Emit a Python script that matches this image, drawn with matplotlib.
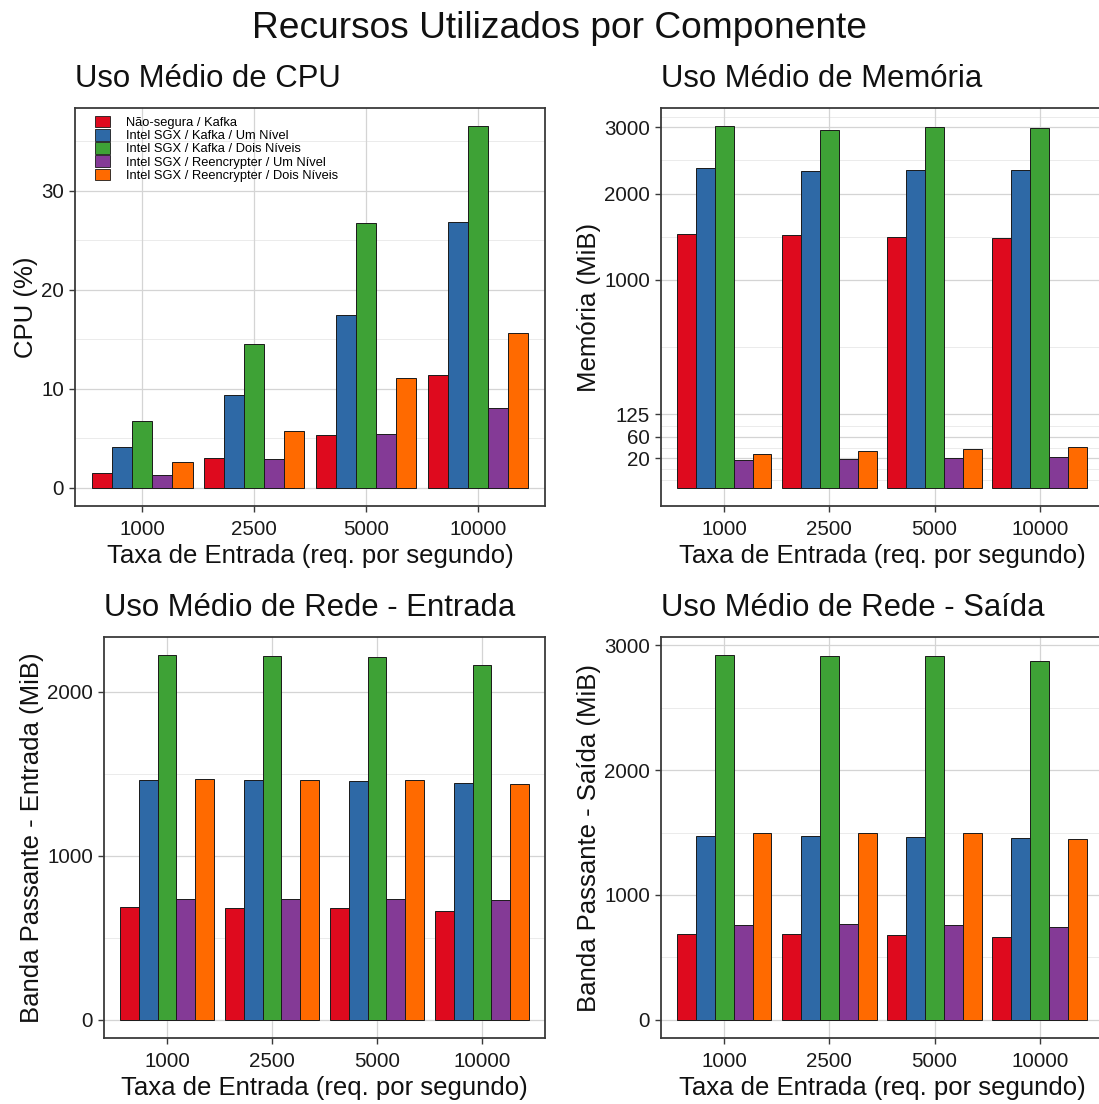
import numpy as np
import matplotlib
matplotlib.use("Agg")
import matplotlib.pyplot as plt
from matplotlib.patches import Patch

plt.rcParams['font.family'] = ['Liberation Sans', 'DejaVu Sans']

# ---- data ----
rates = ["1000", "2500", "5000", "10000"]
series = [
    "Não-segura / Kafka",
    "Intel SGX / Kafka / Um Nível",
    "Intel SGX / Kafka / Dois Níveis",
    "Intel SGX / Reencrypter / Um Nível",
    "Intel SGX / Reencrypter / Dois Níveis",
]
colors = ["#DE0A1E", "#2E69A6", "#3EA236", "#843A96", "#FF6A00"]

cpu_nao_segura = [1.47, 3.0, 5.35, 11.35]
cpu_kafka_um = [4.1, 9.4, 17.45, 26.8]
cpu_kafka_dois = [6.7, 14.5, 26.7, 36.5]
cpu_reenc_um = [1.27, 2.9, 5.4, 8.07]
cpu_reenc_dois = [2.6, 5.75, 11.05, 15.65]

mem_nao_segura = [1494, 1471, 1456, 1436]
mem_kafka_um = [2362, 2313, 2327, 2332]
mem_kafka_dois = [3022, 2961, 3005, 2994]
mem_reenc_um = [17.4, 19.1, 20.4, 22.3]
mem_reenc_dois = [26.2, 31.6, 34.5, 38.1]

netin_nao_segura = [688, 684, 680, 664]
netin_kafka_um = [1462, 1462, 1458, 1446]
netin_kafka_dois = [2223, 2217, 2211, 2162]
netin_reenc_um = [739, 739, 735, 731]
netin_reenc_dois = [1470, 1462, 1460, 1438]

netout_nao_segura = [691, 685, 680, 667]
netout_kafka_um = [1472, 1472, 1467, 1456]
netout_kafka_dois = [2920, 2912, 2912, 2872]
netout_reenc_um = [760, 765, 760, 741]
netout_reenc_dois = [1499, 1499, 1493, 1448]

mem_ticks = [20, 60, 125, 1000, 2000, 3000]

W, H = 1099, 1104
fig = plt.figure(figsize=(W / 100, H / 100), dpi=100)

BORDER = "#3a3a3a"
GRID_MAJ = "#d4d4d4"
GRID_MIN = "#ebebeb"
LABEL_SIZE = 18.5


def add_axes_px(x0, y0, x1, y1):
    return fig.add_axes([x0 / W, 1 - y1 / H, (x1 - x0) / W, (y1 - y0) / H])


def style(ax, minors):
    for s in ax.spines.values():
        s.set_color(BORDER)
        s.set_linewidth(1.3)
    ax.set_axisbelow(True)
    ax.grid(True, which="major", color=GRID_MAJ, linewidth=0.9)
    for m in minors:
        ax.axhline(m, color=GRID_MIN, linewidth=0.7, zorder=0.5)
    ax.tick_params(axis="both", which="major", direction="out", length=4,
                   width=1.0, color=BORDER, labelsize=14.8, labelcolor="#1a1a1a",
                   pad=4)
    ax.tick_params(axis="x", which="major", pad=6)
    ax.tick_params(axis="both", which="minor", length=0)


def draw_bars(ax, data):
    n = len(series)
    width = 0.9 / n
    x = np.arange(1, len(rates) + 1)
    for i, vals in enumerate(data):
        off = (i - (n - 1) / 2) * width
        ax.bar(x + off, vals, width=width, color=colors[i], edgecolor="#1a1a1a",
               linewidth=0.7, zorder=2, label=series[i])
    ax.set_xticks(x)
    ax.set_xticklabels(rates)
    ax.set_xlim(0.4, len(rates) + 0.6)
    ax.set_xlabel("Taxa de Entrada (req. por segundo)", fontsize=LABEL_SIZE,
                  color="#111111", labelpad=4)


def set_labels(ax, ylabel, title):
    ax.set_ylabel(ylabel, fontsize=LABEL_SIZE, color="#111111", labelpad=2)
    ax.set_title(title, loc="left", fontsize=22.4, pad=15, color="#111111")


# ---- CPU ----
ax1 = add_axes_px(75, 108, 545, 506)
data_cpu = [cpu_nao_segura, cpu_kafka_um, cpu_kafka_dois, cpu_reenc_um, cpu_reenc_dois]
draw_bars(ax1, data_cpu)
top = max(max(v) for v in data_cpu)
ax1.set_ylim(-0.05 * top, 1.05 * top)
ax1.set_yticks([0, 10, 20, 30])
style(ax1, [5, 15, 25, 35])
set_labels(ax1, "CPU (%)", "Uso Médio de CPU")
handles = [Patch(facecolor=c, edgecolor="#1a1a1a", linewidth=0.6) for c in colors]
leg = ax1.legend(handles, series, loc="upper left", bbox_to_anchor=(0.035, 0.99),
                 fontsize=9.3, frameon=False, handlelength=1.1, handleheight=1.0,
                 handletextpad=1.25, labelspacing=0.0, borderaxespad=0.1,
                 borderpad=0.2)

# ---- Memory (square-root scale) ----
ax2 = add_axes_px(661, 108, 1103, 506)


def fwd(v):
    v = np.asarray(v, dtype=float)
    return np.sign(v) * np.sqrt(np.abs(v))


def inv(v):
    v = np.asarray(v, dtype=float)
    return np.sign(v) * v ** 2


ax2.set_yscale("function", functions=(fwd, inv))
data_mem = [mem_nao_segura, mem_kafka_um, mem_kafka_dois, mem_reenc_um, mem_reenc_dois]
draw_bars(ax2, data_mem)
ttop = np.sqrt(max(max(v) for v in data_mem))
lo_t, hi_t = -0.05 * ttop, 1.05 * ttop
ax2.set_ylim(float(inv(lo_t)), float(inv(hi_t)))
ax2.set_yticks(mem_ticks)
ax2.set_yticklabels([str(t) for t in mem_ticks])
ax2.yaxis.set_minor_locator(matplotlib.ticker.NullLocator())
tt = np.sqrt(np.array(mem_ticks, dtype=float))
step = tt[1] - tt[0]
ext = np.concatenate([[tt[0] - step], tt, [tt[-1] + step]])
mins = list((ext[:-1] + ext[1:]) / 2) + [ext[0], ext[-1]]
mins = [float(inv(m)) for m in mins if lo_t < m < hi_t]
style(ax2, mins)
set_labels(ax2, "Memória (MiB)", "Uso Médio de Memória")

# ---- Network in ----
ax3 = add_axes_px(104, 637, 545, 1038)
data_in = [netin_nao_segura, netin_kafka_um, netin_kafka_dois, netin_reenc_um, netin_reenc_dois]
draw_bars(ax3, data_in)
top = max(max(v) for v in data_in)
ax3.set_ylim(-0.05 * top, 1.05 * top)
ax3.set_yticks([0, 1000, 2000])
style(ax3, [500, 1500])
set_labels(ax3, "Banda Passante - Entrada (MiB)", "Uso Médio de Rede - Entrada")

# ---- Network out ----
ax4 = add_axes_px(661, 637, 1103, 1038)
data_out = [netout_nao_segura, netout_kafka_um, netout_kafka_dois, netout_reenc_um, netout_reenc_dois]
draw_bars(ax4, data_out)
top = max(max(v) for v in data_out)
ax4.set_ylim(-0.05 * top, 1.05 * top)
ax4.set_yticks([0, 1000, 2000, 3000])
style(ax4, [500, 1500, 2500])
set_labels(ax4, "Banda Passante - Saída (MiB)", "Uso Médio de Rede - Saída")

fig.text(559 / W, 1 - 29 / H, "Recursos Utilizados por Componente", fontsize=26.7,
         ha="center", va="center", color="#111111")

fig.savefig("out.png", dpi=100, facecolor="white")
